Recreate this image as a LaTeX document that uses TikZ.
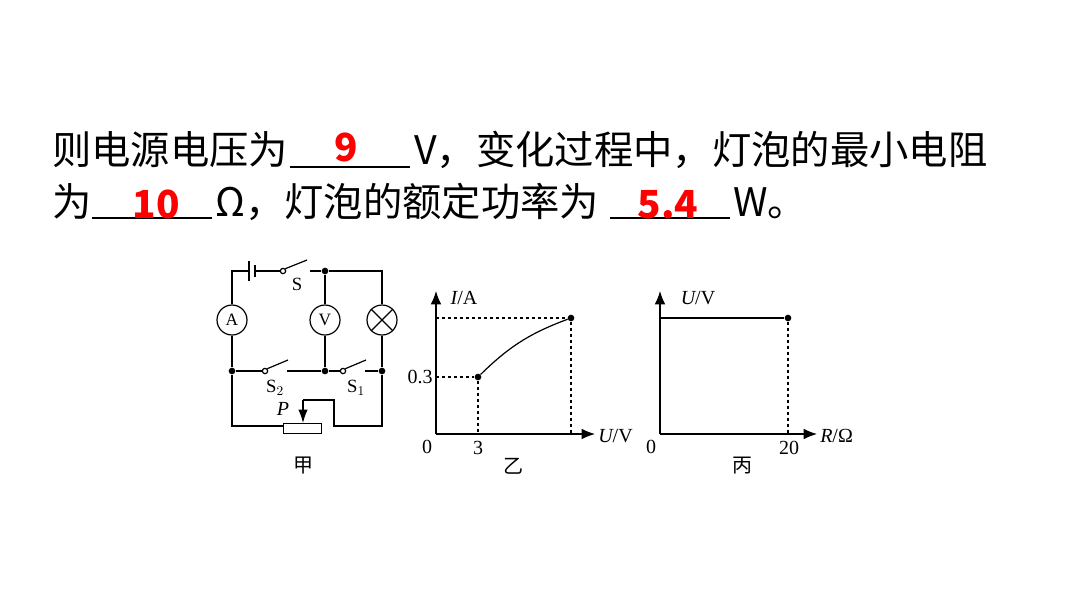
\documentclass[tikz,border=0pt]{standalone}
\usepackage{fontspec}
\setmainfont{Liberation Serif}
\newfontfamily\cjk{Noto Sans CJK SC}
\usetikzlibrary{arrows.meta}
\begin{document}
\begin{tikzpicture}[x=0.75pt,y=-0.75pt,
  big/.style={font=\cjk\fontsize{29.5}{30}\selectfont,inner sep=0,anchor=base west},
  red/.style={font=\cjk\bfseries\fontsize{29}{30}\selectfont,text=red,inner sep=0,anchor=base},
  blank/.style={line width=1.2pt},
  w/.style={line width=0.9pt},
  lab/.style={font=\fontsize{14}{16}\selectfont,inner sep=0},
  dot/.style={circle,fill,inner sep=0,minimum size=5pt},
  meter/.style={circle,draw,line width=0.9pt,minimum size=22.5pt,inner sep=0,font=\fontsize{13}{14}\selectfont},
  ax/.style={line width=0.9pt,-{Latex[length=10pt,width=8pt]}},
  dsh/.style={line width=0.8pt,dash pattern=on 2.5pt off 2pt}]
\useasboundingbox (0,0) rectangle (1080,608);
% text
\node[big] (t1) at (52,164) {则电源电压为};
\draw[blank] (290,167) -- (410,167);
\node[red] (r1) at (346,161) {9};
\node[big] (t2) at (414,164) {V，变化过程中，灯泡的最小电阻};
\node[big] (t3) at (52,216) {为};
\draw[blank] (92,218) -- (212,218);
\node[red] (r2) at (156,218) {10};
\node[big] (t4) at (215,216) {Ω，灯泡的额定功率为};
\draw[blank] (610,218) -- (730,218);
\node[red] (r3) at (668,218) {5.4};
\node[big] (t5) at (733,216) {W。};
% circuit
\node[meter] (A) at (232,320) {A};
\node[meter] (V) at (325,320) {V};
\node[meter] (L) at (382,320) {};
\draw[w] (L.45)--(L.225) (L.135)--(L.315);
\coordinate (tl) at (232,271); \coordinate (tr) at (382,271);
\node[dot] (jt) at (325,271) {};
\node[dot] (ml) at (232,371) {}; \node[dot] (mm) at (325,371) {}; \node[dot] (mr) at (382,371) {};
\draw[w] (A) -- (tl) -- (249,271);
\draw[line width=0.9pt] (249,261) -- (249,281);
\draw[line width=2pt] (255,265) -- (255,277);
\node[circle,draw,w,inner sep=0,minimum size=4pt] (sw) at (283,271) {};
\draw[w] (255,271) -- (sw.west);
\draw[w] (sw.north east) -- (307,260);
\draw[w] (310,271) -- (jt) -- (tr) -- (L);
\draw[w] (jt) -- (V) -- (mm);
\draw[w] (A) -- (ml) -- (232,426) -- (283,426);
\draw[w] (L) -- (mr) -- (382,426) -- (334,426) -- (334,400) -- (303,400);
\draw[line width=0.9pt,-{Latex[length=10pt,width=7pt]}] (303,400) -- (303,423);
\node[draw,w,minimum width=29pt,minimum height=7.5pt,inner sep=0] (R) at (302.5,428.5) {};
% S2
\node[circle,draw,w,inner sep=0,minimum size=4pt] (s2) at (265,371) {};
\draw[w] (ml) -- (s2.west); \draw[w] (s2.north east) -- (288,360);
\draw[w] (287,371) -- (mm);
\node[circle,draw,w,inner sep=0,minimum size=4pt] (s1) at (343,371) {};
\draw[w] (mm) -- (s1.west); \draw[w] (s1.north east) -- (366,360);
\draw[w] (365,371) -- (mr);
\node[lab] at (297,284) {S};
\node[lab] at (275,388) {S$_2$};
\node[lab] at (356,388) {S$_1$};
\node[lab,font=\fontsize{15}{16}\selectfont] at (283,409) {\itshape P};
\node[lab,font=\cjk\fontsize{15}{16}\selectfont] at (303,466) {甲};
% graph yi
\coordinate (o1) at (436,434);
\draw[ax] (o1) -- (436,291);
\draw[ax] (o1) -- (595,434);
\node[dot] (p1) at (478,377) {};
\node[dot] (p2) at (571,318) {};
\draw[w] (p1) to[bend left=12] (p2);
\draw[dsh] (436,377) -- (p1) -- (478,434);
\draw[dsh] (436,318) -- (p2) -- (571,434);
\node[lab,font=\fontsize{15}{16}\selectfont] at (464,298) {\itshape I\upshape/A};
\node[lab,font=\fontsize{15}{16}\selectfont,anchor=east] at (433,377) {0.3};
\node[lab,font=\fontsize{15}{16}\selectfont] at (427,447) {0};
\node[lab,font=\fontsize{15}{16}\selectfont] at (478,448) {3};
\node[lab,font=\fontsize{15}{16}\selectfont,anchor=west] at (598,436) {\itshape U\upshape/V};
\node[lab,font=\cjk\fontsize{15}{16}\selectfont] at (513,466) {乙};
% graph bing
\coordinate (o2) at (660,434);
\draw[ax] (o2) -- (660,291);
\draw[ax] (o2) -- (817,434);
\node[dot] (p3) at (788,318) {};
\draw[w] (660,318) -- (p3);
\draw[dsh] (p3) -- (788,434);
\node[lab,font=\fontsize{15}{16}\selectfont] at (698,298) {\itshape U\upshape/V};
\node[lab,font=\fontsize{15}{16}\selectfont] at (651,447) {0};
\node[lab,font=\fontsize{15}{16}\selectfont] at (789,448) {20};
\node[lab,font=\fontsize{15}{16}\selectfont,anchor=west] at (820,436) {\itshape R\upshape/Ω};
\node[lab,font=\cjk\fontsize{15}{16}\selectfont] at (742,466) {丙};
\end{tikzpicture}
\end{document}
